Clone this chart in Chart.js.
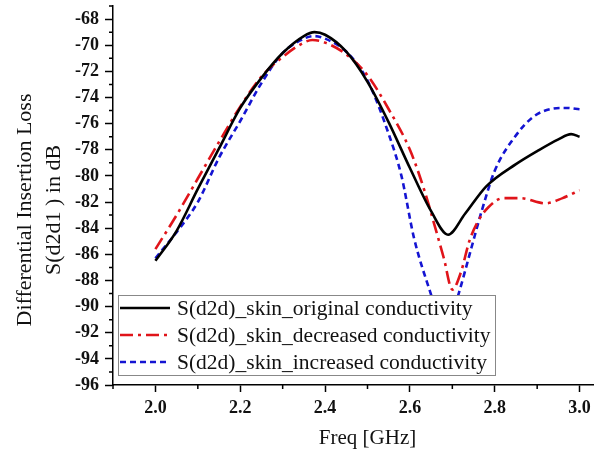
<!DOCTYPE html>
<html>
<head>
<meta charset="utf-8">
<script src="https://cdn.jsdelivr.net/npm/chart.js@4"></script>
<style>
  html, body { margin: 0; padding: 0; background: #fff; overflow: hidden; }
  #wrap { width: 622px; height: 455px; }
</style>
</head>
<body>
<div id="wrap"><canvas id="chart" width="622" height="455"></canvas></div>
<script>
const seriesNames = [
    'S(d2d)_skin_original conductivity',
    'S(d2d)_skin_decreased conductivity',
    'S(d2d)_skin_increased conductivity'
];
const yTitleLines = ['Differential Insertion Loss', 'S(d2d1 ) in dB'];

const origFreq = [2.00, 2.05, 2.10, 2.15, 2.20, 2.25, 2.30, 2.35, 2.375, 2.40, 2.45, 2.50, 2.55, 2.60, 2.65, 2.69, 2.73, 2.78, 2.85, 2.90, 2.95, 2.98, 3.00];
const origLoss = [-86.5, -84.2, -81.0, -77.9, -74.8, -72.5, -70.6, -69.3, -69.0, -69.2, -70.5, -72.8, -75.9, -79.4, -82.7, -84.5, -82.9, -80.8, -79.1, -78.1, -77.2, -76.8, -77.0];

const decFreq = [2.00, 2.05, 2.10, 2.15, 2.20, 2.25, 2.30, 2.35, 2.37, 2.40, 2.45, 2.50, 2.55, 2.60, 2.635, 2.66, 2.68, 2.70, 2.72, 2.74, 2.76, 2.785, 2.82, 2.86, 2.92, 2.96, 3.00];
const decLoss = [-85.6, -83.0, -80.2, -77.4, -74.7, -72.4, -70.9, -69.8, -69.6, -69.8, -70.7, -72.3, -74.9, -78.0, -81.2, -84.0, -86.3, -88.7, -87.4, -85.0, -83.5, -82.4, -81.7, -81.7, -82.1, -81.7, -81.1];

const incFreq = [2.00, 2.05, 2.10, 2.15, 2.20, 2.25, 2.30, 2.35, 2.375, 2.40, 2.45, 2.50, 2.55, 2.58, 2.61, 2.65, 2.682, 2.715, 2.745, 2.77, 2.80, 2.85, 2.89, 2.93, 2.97, 3.00];
const incLoss = [-86.3, -84.3, -82.0, -78.6, -75.8, -72.9, -70.6, -69.5, -69.3, -69.5, -70.5, -72.7, -76.8, -80.0, -84.8, -89.1, -92.2, -89.0, -85.5, -82.6, -79.6, -76.9, -75.5, -74.9, -74.8, -74.9];

const xTicks = [2.0, 2.2, 2.4, 2.6, 2.8, 3.0];
const yTicks = [-96, -94, -92, -90, -88, -86, -84, -82, -80, -78, -76, -74, -72, -70, -68];

const serif = "'Liberation Serif', 'Times New Roman', serif";

function toPoints(xs, ys) {
    return xs.map((x, i) => ({ x: x, y: ys[i] }));
}

// minor ticks halfway between the labelled ones
const minorTicks = {
    id: 'minorTicks',
    afterDraw(chart) {
        const ctx = chart.ctx;
        const xs = chart.scales.x;
        const ys = chart.scales.y;
        ctx.save();
        ctx.strokeStyle = '#000';
        ctx.lineWidth = 1.5;
        ctx.beginPath();
        for (let v = xs.min; v <= xs.max + 1e-9; v += 0.1) {
            const r = Math.round(v * 10) / 10;
            if (xTicks.some(t => Math.abs(t - r) < 1e-6)) continue;
            const px = xs.getPixelForValue(r);
            ctx.moveTo(px, ys.bottom);
            ctx.lineTo(px, ys.bottom + 4);
        }
        for (let v = ys.min; v <= ys.max; v += 1) {
            if (yTicks.includes(v)) continue;
            const py = ys.getPixelForValue(v);
            ctx.moveTo(xs.left, py);
            ctx.lineTo(xs.left - 4, py);
        }
        ctx.stroke();
        ctx.restore();
    }
};

// two-line rotated y title, placed a bit below the middle like the original
const yTitle = {
    id: 'yTitle',
    afterDraw(chart) {
        const ctx = chart.ctx;
        ctx.save();
        ctx.translate(0, 210);
        ctx.rotate(-Math.PI / 2);
        ctx.font = '22px ' + serif;
        ctx.fillStyle = '#111';
        ctx.textAlign = 'center';
        ctx.textBaseline = 'middle';
        ctx.fillText(yTitleLines[0], 0, 25);
        ctx.fillText(yTitleLines[1], 0, 54);
        ctx.restore();
    }
};

// boxed legend sitting inside the plot, covering the curves below it
const boxLegend = {
    id: 'boxLegend',
    afterDatasetsDraw(chart) {
        const ctx = chart.ctx;
        const area = chart.chartArea;
        const left = area.left + 5;
        const top = area.bottom - 90;
        const w = 377, h = 80;
        ctx.save();
        ctx.fillStyle = '#fff';
        ctx.fillRect(left, top, w, h);
        ctx.strokeStyle = '#888';
        ctx.lineWidth = 1;
        ctx.strokeRect(left + 0.5, top + 0.5, w, h);
        ctx.font = '21.5px ' + serif;
        ctx.textBaseline = 'middle';
        chart.data.datasets.forEach((ds, i) => {
            const cy = top + 13 + i * 27;
            ctx.strokeStyle = ds.borderColor;
            ctx.lineWidth = ds.borderWidth;
            ctx.setLineDash(ds.borderDash || []);
            ctx.beginPath();
            ctx.moveTo(left + 2, cy);
            ctx.lineTo(left + 52, cy);
            ctx.stroke();
            ctx.setLineDash([]);
            ctx.fillStyle = '#111';
            ctx.fillText(ds.label, left + 59, cy + 1);
        });
        ctx.restore();
    }
};

function setup() {
    const ctx = document.getElementById('chart').getContext('2d');
    new Chart(ctx, {
        type: 'line',
        data: {
            datasets: [
                {
                    label: seriesNames[0],
                    data: toPoints(origFreq, origLoss),
                    borderColor: '#000000',
                    borderWidth: 2.6
                },
                {
                    label: seriesNames[1],
                    data: toPoints(decFreq, decLoss),
                    borderColor: '#e0141a',
                    borderWidth: 2.6,
                    borderDash: [13, 5, 3, 5]
                },
                {
                    label: seriesNames[2],
                    data: toPoints(incFreq, incLoss),
                    borderColor: '#1414d2',
                    borderWidth: 2.6,
                    borderDash: [6, 4]
                }
            ]
        },
        options: {
            responsive: false,
            animation: false,
            cubicInterpolationMode: 'monotone',
            elements: { point: { radius: 0 } },
            layout: { padding: { top: 6, right: 0, left: 0, bottom: 0 } },
            plugins: {
                legend: { display: false },
                tooltip: { enabled: false }
            },
            scales: {
                x: {
                    type: 'linear',
                    min: 1.9,
                    max: 3.1,
                    afterBuildTicks: s => { s.ticks = xTicks.map(v => ({ value: v })); },
                    afterFit: s => {
                        s.height = 70;
                        s.paddingLeft = 0;
                        s.paddingRight = 0;
                    },
                    border: { color: '#000', width: 1.5 },
                    grid: { drawOnChartArea: false, tickLength: 7, tickColor: '#000', tickWidth: 1.5 },
                    ticks: {
                        color: '#111',
                        padding: 6,
                        maxRotation: 0,
                        font: { family: serif, size: 18, weight: 'bold' },
                        callback: v => v.toFixed(1)
                    },
                    title: {
                        display: true,
                        text: 'Freq [GHz]',
                        color: '#111',
                        padding: { top: 7 },
                        font: { family: serif, size: 21 }
                    }
                },
                y: {
                    min: -96,
                    max: -67,
                    afterBuildTicks: s => { s.ticks = yTicks.map(v => ({ value: v })); },
                    afterFit: s => {
                        s.width = 113;
                        s.paddingTop = 0;
                        s.paddingBottom = 0;
                    },
                    border: { color: '#000', width: 1.5 },
                    grid: { drawOnChartArea: false, tickLength: 8, tickColor: '#000', tickWidth: 1.5 },
                    ticks: {
                        color: '#111',
                        padding: 6,
                        font: { family: serif, size: 18, weight: 'bold' }
                    },
                    title: { display: false }
                }
            }
        },
        plugins: [minorTicks, boxLegend, yTitle]
    });
}

window.onload = setup;
</script>
</body>
</html>
